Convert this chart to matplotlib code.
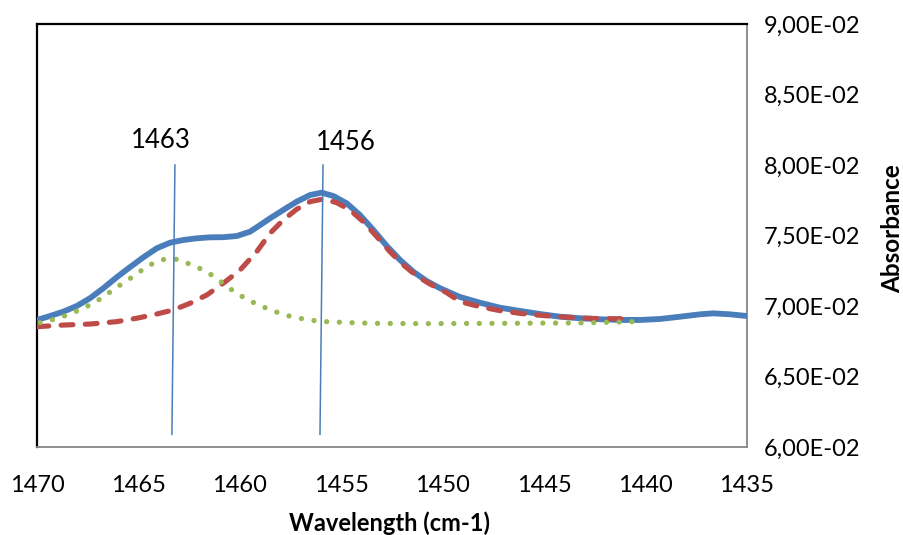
import matplotlib
matplotlib.use('Agg')
from matplotlib import pyplot as plt
from matplotlib.ticker import FuncFormatter, MultipleLocator


# Setting
plt.rcParams['font.family'] = ['Lato', 'DejaVu Sans']


# Variable
# measured spectrum (blue)
wn_meas = [1470.00, 1469.36, 1468.70, 1468.04, 1467.39, 1466.73, 1466.07, 1465.42, 1464.76, 1464.10,
           1463.44, 1462.79, 1462.13, 1461.47, 1460.82, 1460.16, 1459.50, 1459.17, 1458.51, 1457.86,
           1457.20, 1456.54, 1455.97, 1455.39, 1454.73, 1454.08, 1453.42, 1452.76, 1452.10, 1451.45,
           1450.79, 1450.13, 1449.15, 1448.16, 1447.18, 1446.19, 1445.20, 1444.22, 1443.23, 1442.25,
           1441.26, 1440.27, 1439.29, 1438.30, 1437.32, 1436.66, 1435.84, 1435.00]
abs_meas = [0.06901, 0.06929, 0.06960, 0.07000, 0.07055, 0.07126, 0.07204, 0.07275, 0.07345, 0.07409,
            0.07449, 0.07468, 0.07480, 0.07487, 0.07488, 0.07496, 0.07527, 0.07558, 0.07622, 0.07681,
            0.07740, 0.07787, 0.07804, 0.07780, 0.07728, 0.07645, 0.07539, 0.07426, 0.07326, 0.07243,
            0.07177, 0.07126, 0.07064, 0.07023, 0.06988, 0.06965, 0.06943, 0.06924, 0.06913, 0.06906,
            0.06901, 0.06901, 0.06908, 0.06924, 0.06941, 0.06948, 0.06941, 0.06929]

# fitted band centred at 1456 (red)
wn_fit1 = [1470.00, 1468.70, 1467.39, 1466.07, 1465.09, 1464.10, 1463.28, 1462.46, 1461.63, 1460.82,
           1459.99, 1459.17, 1458.51, 1457.86, 1457.20, 1456.54, 1455.89, 1455.23, 1454.57, 1453.92,
           1453.25, 1452.60, 1451.94, 1451.28, 1450.63, 1449.80, 1449.15, 1448.16, 1447.18, 1446.19,
           1445.20, 1444.22, 1443.23, 1442.25, 1440.62]
abs_fit1 = [0.06853, 0.06865, 0.06872, 0.06889, 0.06913, 0.06943, 0.06972, 0.07019, 0.07078, 0.07161,
            0.07255, 0.07385, 0.07516, 0.07610, 0.07686, 0.07740, 0.07759, 0.07733, 0.07681, 0.07598,
            0.07492, 0.07385, 0.07291, 0.07213, 0.07156, 0.07094, 0.07031, 0.06995, 0.06967, 0.06948,
            0.06934, 0.06924, 0.06915, 0.06910, 0.06910]

# fitted band centred at 1463 (green)
wn_fit2 = [1469.85, 1469.28, 1468.75, 1468.21, 1467.67, 1467.14, 1466.65, 1466.19, 1465.70, 1465.22,
           1464.76, 1464.23, 1463.69, 1463.11, 1462.57, 1462.05, 1461.52, 1461.04, 1460.58, 1460.11,
           1459.58, 1459.09, 1458.55, 1457.99, 1457.44, 1456.87, 1456.30, 1455.72, 1454.57, 1453.42,
           1451.12, 1447.18, 1443.23, 1440.62]
abs_fit2 = [0.06882, 0.06901, 0.06924, 0.06953, 0.06988, 0.07026, 0.07073, 0.07121, 0.07168, 0.07213,
            0.07262, 0.07307, 0.07333, 0.07331, 0.07303, 0.07272, 0.07232, 0.07184, 0.07133, 0.07085,
            0.07043, 0.07007, 0.06977, 0.06946, 0.06924, 0.06908, 0.06896, 0.06889, 0.06882, 0.06877,
            0.06875, 0.06877, 0.06880, 0.06889]

# peak markers
peak_labels = ['1463', '1456']
peak_top_x = [1463.2, 1455.9]
peak_bot_x = [1463.35, 1456.05]
peak_top_y = 0.0800
peak_bot_y = 0.0609
label_x = [1463.9, 1454.8]
label_y = [0.08177, 0.08163]


# Function
def sci_comma(v, pos):
    return f'{v:.2E}'.replace('.', ',')


fig = plt.figure(figsize=(9.04, 5.35), dpi=100)
ax = fig.add_axes([37 / 904, 1 - 447 / 535, 710 / 904, 423 / 535])

blue = '#4A7EBB'
red = '#BE4B48'
green = '#98B954'

ax.plot(wn_meas, abs_meas, color=blue, lw=4.2, solid_capstyle='butt',
        solid_joinstyle='round', zorder=3)
ax.plot(wn_fit1, abs_fit1, color=red, lw=3.7, linestyle=(0, (2.3, 2.4)),
        dash_capstyle='round', dash_joinstyle='round', zorder=4)
ax.plot(wn_fit2, abs_fit2, color=green, lw=3.8, linestyle=(0, (0.01, 2.4)),
        dash_capstyle='round', zorder=4)

for lab, xt, xb, lx, ly in zip(peak_labels, peak_top_x, peak_bot_x, label_x, label_y):
    ax.plot([xt, xb], [peak_top_y, peak_bot_y], color=blue, lw=1.1, zorder=5)
    ax.text(lx, ly, lab, ha='center', va='center', fontsize=18.5)

ax.set_xlim(1470, 1435)
ax.set_ylim(0.06, 0.09)
ax.xaxis.set_major_locator(MultipleLocator(5))
ax.yaxis.set_major_locator(MultipleLocator(0.005))
ax.yaxis.set_major_formatter(FuncFormatter(sci_comma))
ax.yaxis.tick_right()
ax.tick_params(axis='both', length=0, labelsize=17)
ax.tick_params(axis='x', pad=20)
ax.tick_params(axis='y', pad=12)

for side in ['top', 'left']:
    ax.spines[side].set_color('black')
    ax.spines[side].set_linewidth(1.6)
for side in ['bottom', 'right']:
    ax.spines[side].set_color('#868686')
    ax.spines[side].set_linewidth(1.3)

fig.text(390 / 904, 1 - 523 / 535, 'Wavelength (cm-1)', ha='center', va='center',
         fontsize=17, fontweight='bold')
fig.text(893 / 904, 1 - 229 / 535, 'Absorbance', ha='center', va='center',
         rotation=90, fontsize=17.5, fontweight='bold')

plt.savefig('out.png', dpi=100)
plt.close()
